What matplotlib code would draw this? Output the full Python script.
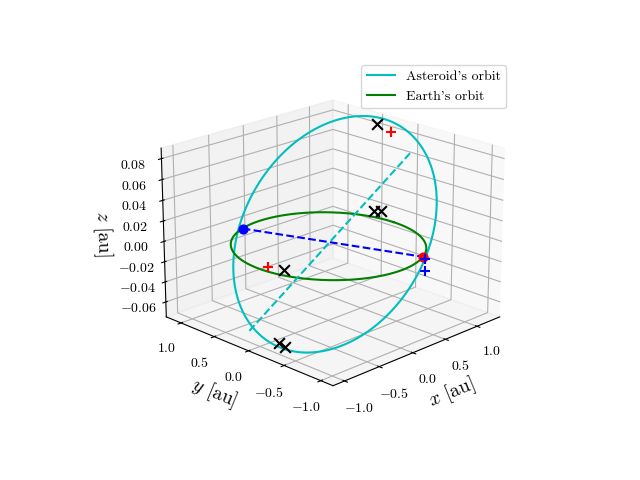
import numpy as np
import matplotlib
matplotlib.use('Agg')
from matplotlib import pyplot as plt

plt.rcParams['mathtext.fontset'] = 'cm'
plt.rcParams['font.family'] = 'serif'
plt.rcParams['font.serif'] = ['cmr10']
plt.rcParams['axes.formatter.use_mathtext'] = True

# orbital elements of the asteroid (a [au], e, i [deg], node [deg], peri [deg])
a_ast, e_ast, i_ast, node_ast, peri_ast = 1.05, 0.12, 4.6, -70.0, -95.0
# nodes, markers
node_pts = [(-0.3, 0.95, 0.0), (0.44, -0.9, 0.0)]
line_pts = [(-0.98, 0.17, -0.065), (1.02, -0.2, 0.072)]
red_plus = [(1.21, 0.24, 0.08), (-0.49, 0.39, -0.02)]
blue_plus = [(0.44, -0.92, -0.002), (0.42, -0.95, -0.012)]
black_x = [(1.16, 0.39, 0.086), (0.5, -0.17, 0.026), (0.55, -0.22, 0.026),
           (-0.39, 0.25, -0.022), (-0.99, -0.26, -0.065), (-0.96, -0.32, -0.068)]

def orbit(a, e, inc, node, peri, n=400):
    nu = np.linspace(0, 2*np.pi, n)
    r = a*(1-e**2)/(1+e*np.cos(nu))
    inc, node, peri = np.radians([inc, node, peri])
    u = nu + peri
    x = r*(np.cos(node)*np.cos(u) - np.sin(node)*np.sin(u)*np.cos(inc))
    y = r*(np.sin(node)*np.cos(u) + np.cos(node)*np.sin(u)*np.cos(inc))
    z = r*np.sin(u)*np.sin(inc)
    return x, y, z

fig = plt.figure(figsize=(6.4, 4.8))
ax = fig.add_subplot(projection='3d')
ax.set_position([0.125, 0.115, 0.775, 0.775])
ax.view_init(elev=20, azim=-135)

x, y, z = orbit(a_ast, e_ast, i_ast, node_ast, peri_ast)
ax.plot(x, y, z, c='c', label="Asteroid's orbit")
t = np.linspace(0, 2*np.pi, 400)
ax.plot(np.cos(t), np.sin(t), 0*t, c='g', label="Earth's orbit")

ax.plot([p[0] for p in line_pts], [p[1] for p in line_pts], [p[2] for p in line_pts], 'c--')
ax.plot([p[0] for p in node_pts], [p[1] for p in node_pts], [p[2] for p in node_pts], 'b--')
ax.scatter(*node_pts[0], c='b', s=40, depthshade=False)
ax.scatter(*node_pts[1], c='r', s=40, depthshade=False)
for pts, m, c in [(red_plus, '+', 'r'), (blue_plus, '+', 'b'), (black_x, 'x', 'k')]:
    ax.scatter([p[0] for p in pts], [p[1] for p in pts], [p[2] for p in pts],
               marker=m, c=c, s=60, depthshade=False)

ax.set_zlim(-0.075, 0.09)
ax.set_zticks(np.arange(-0.06, 0.081, 0.02))
ax.set_xticks([-1.0, -0.5, 0.0, 0.5, 1.0])
ax.set_yticks([-1.0, -0.5, 0.0, 0.5, 1.0])
ax.set_xlabel(r'$x$ [au]', fontsize=14)
ax.set_ylabel(r'$y$ [au]', fontsize=14)
ax.set_zlabel(r'$z$ [au]', fontsize=14)
ax.legend(loc='upper right', bbox_to_anchor=(513/640, 1-58/480), bbox_transform=fig.transFigure)
plt.savefig('out.png')
